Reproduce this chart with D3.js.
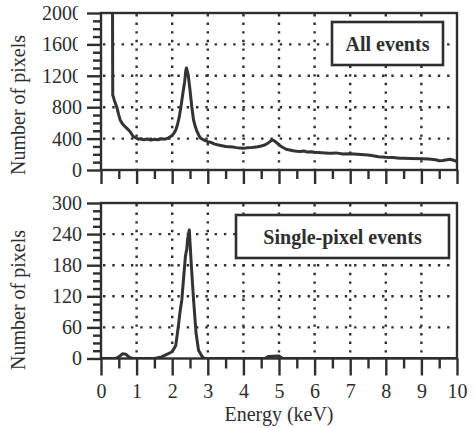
<!DOCTYPE html>
<html>
<head>
<meta charset="utf-8">
<script src="https://cdn.jsdelivr.net/npm/d3@7"></script>
<style>
  body { margin: 0; background: #fff; }
</style>
</head>
<body>
<div class="Spectra"></div>
<script>
// all events spectrum (energy in keV, number of pixels)
const allEnergy = [0.30, 0.32, 0.33, 0.38, 0.44, 0.50, 0.54, 0.60, 0.68, 0.75, 0.82, 0.91, 1.00, 1.05, 1.10, 1.20,
  1.30, 1.40, 1.50, 1.60, 1.70, 1.80, 1.90, 2.00, 2.05, 2.10, 2.15, 2.20, 2.25, 2.30, 2.35, 2.38, 2.40, 2.43, 2.45,
  2.50, 2.55, 2.60, 2.65, 2.70, 2.75, 2.80, 2.90, 3.00, 3.10, 3.20, 3.30, 3.40, 3.50, 3.60, 3.70, 3.80, 3.90, 4.00,
  4.10, 4.20, 4.30, 4.40, 4.50, 4.60, 4.70, 4.80, 4.85, 4.90, 5.00, 5.10, 5.20, 5.30, 5.40, 5.50, 5.60, 5.70, 5.80,
  5.90, 6.00, 6.20, 6.40, 6.50, 6.60, 6.80, 7.00, 7.20, 7.40, 7.50, 7.60, 7.80, 8.00, 8.20, 8.40, 8.50, 8.70, 9.00,
  9.20, 9.40, 9.50, 9.60, 9.80, 9.90, 10.0];
const allCounts = [2600, 2600, 955, 880, 806, 700, 637, 590, 552, 520, 488, 424, 405, 391, 398, 385,
  395, 380, 392, 386, 398, 392, 410, 440, 470, 510, 580, 680, 820, 977, 1125, 1260, 1300, 1250, 1210,
  1019, 806, 637, 550, 488, 440, 404, 380, 361, 350, 330, 318, 310, 300, 297, 292, 285, 280, 276,
  282, 285, 289, 296, 305, 318, 345, 380, 378, 360, 320, 290, 265, 255, 246, 240, 236, 242, 228,
  232, 225, 220, 214, 212, 218, 205, 207, 200, 195, 191, 185, 170, 161, 158, 150, 149, 146, 144,
  140, 130, 118, 122, 136, 125, 106];

// single-pixel events spectrum
const singleEnergy = [0.0, 0.4, 0.5, 0.6, 0.7, 0.8, 0.9, 1.5, 1.7, 1.85, 2.0, 2.1, 2.17, 2.22, 2.27, 2.32, 2.37,
  2.39, 2.41, 2.43, 2.48, 2.54, 2.60, 2.67, 2.74, 2.84, 2.9, 4.6, 4.7, 5.0, 5.1, 10.0];
const singleCounts = [0, 0, 3, 9, 8, 2, 0, 0, 3, 8, 13, 25, 61, 90, 113, 155, 196,
  205, 210, 229, 248, 177, 113, 49, 16, 4, 0, 0, 4, 5, 0, 0];

const energyTicks = d3.range(0, 11);
const allTicks = [0, 400, 800, 1200, 1600, 2000];
const singleTicks = [0, 60, 120, 180, 240, 300];

const ink = "#2e2e2e";
const serif = "Times New Roman, Liberation Serif, Times, DejaVu Serif, serif";

function setupSvg() {
  const width = 475, height = 428;
  return d3.select(".Spectra")
    .append("svg")
    .attr("width", width)
    .attr("height", height)
    .attr("font-family", serif);
}

function drawPanel(svg, cfg) {
  const { x, y, ticks, minorStep, energy, counts, label, box, showLabels, id } = cfg;
  const [x0, x1] = x.range();
  const [y0, y1] = y.range();
  const g = svg.append("g");

  // clip for the spectrum
  svg.append("clipPath").attr("id", id)
    .append("rect")
    .attr("x", x0).attr("y", y1)
    .attr("width", x1 - x0).attr("height", y0 - y1);

  // dotted grid
  g.selectAll(".vgrid")
    .data(energyTicks.slice(1, -1))
    .join("line")
    .attr("x1", d => x(d)).attr("x2", d => x(d))
    .attr("y1", y1 + 1).attr("y2", y0)
    .attr("stroke", ink).attr("stroke-width", 2.4)
    .attr("stroke-dasharray", "2.4 6.2");

  g.selectAll(".hgrid")
    .data(ticks.slice(1, -1))
    .join("line")
    .attr("x1", x0 + 2).attr("x2", x1)
    .attr("y1", d => y(d)).attr("y2", d => y(d))
    .attr("stroke", ink).attr("stroke-width", 2.4)
    .attr("stroke-dasharray", "2.4 6.9");

  // spectrum line
  g.append("path")
    .datum(energy.map((e, i) => [e, counts[i]]))
    .attr("clip-path", `url(#${id})`)
    .attr("fill", "none")
    .attr("stroke", "#333")
    .attr("stroke-width", 3)
    .attr("stroke-linejoin", "round")
    .attr("d", d3.line().x(d => x(d[0])).y(d => y(d[1])));

  // legend box
  g.append("rect")
    .attr("x", box.x).attr("y", box.y)
    .attr("width", box.w).attr("height", box.h)
    .attr("fill", "#fff")
    .attr("stroke", ink).attr("stroke-width", 2.6);

  g.append("text")
    .attr("x", box.x + box.w / 2)
    .attr("y", box.y + box.h / 2 + 7)
    .attr("text-anchor", "middle")
    .attr("fill", ink)
    .attr("font-size", 20)
    .attr("font-weight", "bold")
    .text(label);

  // x axis ticks
  const xMajor = g.append("g")
    .attr("transform", `translate(0,${y0})`)
    .call(d3.axisBottom(x).tickValues(energyTicks).tickSize(showLabels ? 17 : 14)
      .tickPadding(8).tickFormat(showLabels ? d3.format("d") : ""));
  g.append("g")
    .attr("transform", `translate(0,${y0})`)
    .call(d3.axisBottom(x).tickValues(d3.range(0.5, 10, 1)).tickSize(showLabels ? 10 : 9).tickFormat(""));

  // y axis ticks
  const yMajor = g.append("g")
    .attr("transform", `translate(${x0},0)`)
    .call(d3.axisLeft(y).tickValues(ticks).tickSize(14).tickPadding(5).tickFormat(d3.format("d")));
  g.append("g")
    .attr("transform", `translate(${x0},0)`)
    .call(d3.axisLeft(y).tickValues(d3.range(0, ticks[ticks.length - 1], minorStep).filter(v => v % ticks[1] !== 0))
      .tickSize(8).tickFormat(""));

  g.selectAll(".domain").remove();
  g.selectAll(".tick line").attr("stroke", ink).attr("stroke-width", 2.4);
  g.selectAll("g").attr("font-family", serif).attr("font-size", 20);
  [xMajor, yMajor].forEach(a => a.selectAll("text").attr("fill", ink));

  // frame
  g.append("rect")
    .attr("x", x0).attr("y", y1)
    .attr("width", x1 - x0).attr("height", y0 - y1)
    .attr("fill", "none")
    .attr("stroke", ink).attr("stroke-width", 2.4);

  return g;
}

function addTitle(svg, transform, text) {
  svg.append("text")
    .attr("transform", transform)
    .attr("text-anchor", "middle")
    .attr("fill", ink)
    .attr("font-size", 20)
    .text(text);
}

function createChart() {
  const svg = setupSvg();

  const x = d3.scaleLinear().domain([0, 10]).range([101, 457]);
  const yAll = d3.scaleLinear().domain([0, 2000]).range([170, 13]);
  const ySingle = d3.scaleLinear().domain([0, 300]).range([358.5, 203]);

  drawPanel(svg, {
    id: "clipAll", x, y: yAll, ticks: allTicks, minorStep: 100,
    energy: allEnergy, counts: allCounts, label: "All events",
    box: { x: 332, y: 22, w: 111, h: 43 }, showLabels: false
  });

  // the four-digit labels are cut off at the axis in the original
  svg.append("rect")
    .attr("x", 78).attr("y", 0)
    .attr("width", 7).attr("height", 84)
    .attr("fill", "#fff");

  drawPanel(svg, {
    id: "clipSingle", x, y: ySingle, ticks: singleTicks, minorStep: 15,
    energy: singleEnergy, counts: singleCounts, label: "Single-pixel events",
    box: { x: 236, y: 215, w: 213, h: 43 }, showLabels: true
  });

  addTitle(svg, "translate(25,105) rotate(-90)", "Number of pixels");
  addTitle(svg, "translate(25,300) rotate(-90)", "Number of pixels");
  addTitle(svg, "translate(279,421)", "Energy (keV)");
}

createChart();
</script>
</body>
</html>
